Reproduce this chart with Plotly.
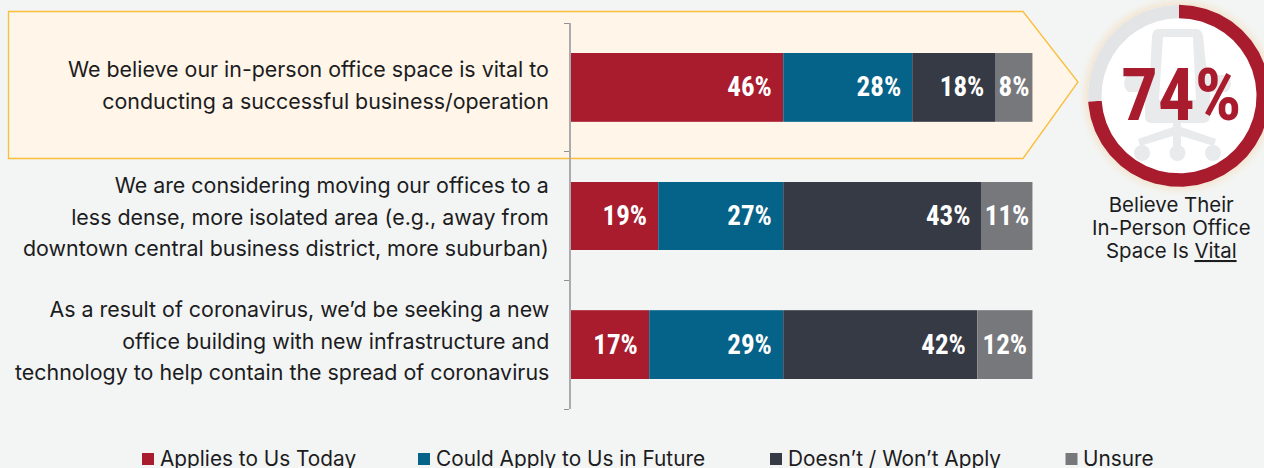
import numpy as np
import plotly.graph_objects as go

W, H = 1264, 468

statements = [
    "We believe our in-person office space is vital to<br>conducting a successful business/operation",
    "We are considering moving our offices to a<br>less dense, more isolated area (e.g., away from<br>downtown central business district, more suburban)",
    "As a result of coronavirus, we’d be seeking a new<br>office building with new infrastructure and<br>technology to help contain the spread of coronavirus",
]
series_names = ["Applies to Us Today", "Could Apply to Us in Future", "Doesn’t / Won’t Apply", "Unsure"]
applies_today = [46, 19, 17]
could_apply = [28, 27, 29]
doesnt_apply = [18, 43, 42]
unsure = [8, 11, 12]
series_values = [applies_today, could_apply, doesnt_apply, unsure]
series_colors = ["#A81C2E", "#056288", "#363A44", "#77787C"]
series_label_anchor = ["end", "end", "end", "middle"]
donut_values = [74, 26]
donut_colors = ["#A81C2E", "#E2E4E5"]
donut_label = "74%"
caption_lines = ["Believe Their", "In-Person Office", "Space Is <u>Vital</u>"]

BG = "#F3F5F4"
TEXT = "#1C1C1E"
SANS = "Inter"
NARROW = "Roboto Condensed"

def px(x):
    return x / W

def py(y):
    return 1 - y / H

def path(d):
    out = []
    for seg in d:
        cmd, *c = seg
        pts = []
        for i in range(0, len(c), 2):
            pts.append(f"{px(c[i]):.5f},{py(c[i + 1]):.5f}")
        out.append(cmd + " ".join(pts))
    return " ".join(out)

def circle(cx, cy, r, **kw):
    return dict(type="circle", xref="paper", yref="paper", x0=px(cx - r), x1=px(cx + r),
                y0=py(cy + r), y1=py(cy - r), layer="below", **kw)

def sized_lines(lines, size):
    # the outer font sets the line pitch, the inner span the glyph size
    return "<br>".join(f'<span style="font-size:{size}px">{ln}</span>' for ln in lines)

shapes = []

# callout banner behind the first row
shapes.append(dict(type="path", xref="paper", yref="paper", layer="below",
                   path=path([("M", 8.5, 11.5), ("L", 1023, 11.5), ("L", 1078, 82), ("L", 1023, 158.5),
                              ("L", 8.5, 158.5), ("Z",)]),
                   fillcolor="#FFF5E9", line=dict(color="#FBBD3A", width=1.3)))

# donut glow and white face
CX, CY, R_OUT, R_IN = 1179, 95.8, 91, 77.5
for grow, alpha in [(9, 0.025), (7, 0.03), (5, 0.04), (3, 0.05), (1.5, 0.06)]:
    shapes.append(circle(CX, CY, R_OUT + grow, fillcolor=f"rgba(251,189,90,{alpha})", line=dict(width=0)))
shapes.append(circle(CX, CY, R_OUT, fillcolor="#FFFFFF", line=dict(width=0)))

# chair icon
CHAIR = "#E8EAEB"
shapes.append(dict(type="path", xref="paper", yref="paper", layer="below", fillcolor=CHAIR, line=dict(width=0),
                   path=path([("M", 1158, 29), ("L", 1196, 29), ("Q", 1202, 29, 1203, 36), ("L", 1207, 75),
                              ("L", 1227, 75), ("Q", 1235, 83, 1227, 92), ("L", 1210, 92), ("L", 1210, 116),
                              ("Q", 1210, 123, 1203, 123), ("L", 1151, 123), ("Q", 1145, 123, 1145, 116),
                              ("L", 1145, 92), ("L", 1128, 92), ("Q", 1120, 83, 1128, 75), ("L", 1150, 75),
                              ("L", 1152, 36), ("Q", 1153, 29, 1158, 29), ("Z",),
                              ("M", 1163, 37), ("L", 1193, 37), ("L", 1196, 100), ("L", 1159, 100), ("Z",)])))
shapes.append(dict(type="path", xref="paper", yref="paper", layer="below", fillcolor=CHAIR, line=dict(width=0),
                   path=path([("M", 1173, 123), ("L", 1181, 123), ("L", 1181, 127), ("L", 1216, 139),
                              ("L", 1214, 146), ("L", 1181, 136), ("L", 1181, 150), ("L", 1173, 150),
                              ("L", 1173, 136), ("L", 1140, 146), ("L", 1138, 139), ("L", 1173, 127), ("Z",)])))
for cx in (1142, 1177.5, 1213):
    shapes.append(circle(cx, 153, 8, fillcolor=CHAIR, line=dict(width=0)))

# legend swatches
legend_x = [142, 418, 770, 1065.5]
for lx, col in zip(legend_x, series_colors):
    shapes.append(dict(type="rect", xref="paper", yref="paper", layer="above",
                       x0=px(lx), x1=px(lx + 12), y0=py(465), y1=py(453), fillcolor=col, line=dict(width=0)))

fig = go.Figure()

for name, vals, col, anchor in zip(series_names, series_values, series_colors, series_label_anchor):
    labels = [f"{v}%" + ("\u2004" if anchor == "end" else "") for v in vals]
    fig.add_trace(go.Bar(
        y=statements, x=vals, name=name, orientation="h", width=0.535,
        marker=dict(color=col, line=dict(color="rgba(255,255,255,0.35)", width=0.5)),
        text=labels, textposition="inside", insidetextanchor=anchor, textangle=0,
        constraintext="none", cliponaxis=False,
        textfont=dict(family=NARROW, size=27, color="#FFFFFF", weight="bold"),
        hoverinfo="skip", showlegend=False,
    ))

# donut ring: runs off the right edge of the page as in the source, so it is a
# filled ring on a full-page overlay axis pair, angles taken from donut_values
start = 0.0
total = sum(donut_values)
for val, col in zip(donut_values, donut_colors):
    t = np.radians(np.linspace(start, start + val / total * 360, 240))
    xs = np.r_[CX + R_OUT * np.sin(t), CX + R_IN * np.sin(t[::-1])]
    ys = np.r_[CY - R_OUT * np.cos(t), CY - R_IN * np.cos(t[::-1])]
    fig.add_trace(go.Scatter(x=xs, y=ys, xaxis="x2", yaxis="y2", mode="lines", fill="toself",
                             fillcolor=col, line=dict(width=0), hoverinfo="skip", showlegend=False))
    start += val / total * 360

annotations = [
    dict(text=donut_label, x=px(1181), y=py(95), xref="paper", yref="paper", showarrow=False,
         xanchor="center", yanchor="middle",
         font=dict(family=NARROW, size=73, color="#A81C2E", weight="bold")),
    dict(text=sized_lines(caption_lines, 20.4), x=px(1171.5), y=py(227), xref="paper", yref="paper",
         showarrow=False, xanchor="center", yanchor="middle", align="center",
         font=dict(family=SANS, size=17.7, color=TEXT)),
]
for lx, name in zip(legend_x, series_names):
    annotations.append(dict(text=name, x=px(lx + 18), y=py(458), xref="paper", yref="paper", showarrow=False,
                            xanchor="left", yanchor="middle", xshift=-2.5,
                            font=dict(family=SANS, size=20.8, color=TEXT)))

# statement labels, right aligned against the axis
LABEL_SIZE = 21.4
label_yshift = [2, 0, 4]
for s, dy in zip(statements, label_yshift):
    annotations.append(dict(text=sized_lines(s.split("<br>"), LABEL_SIZE), x=0, y=s, xref="x", yref="y",
                            showarrow=False, xanchor="right", yanchor="middle", align="right",
                            xshift=-19.5, yshift=dy, font=dict(family=SANS, size=24.3, color=TEXT)))

fig.update_layout(
    width=W, height=H, autosize=False,
    barmode="stack", bargap=0.465,
    margin=dict(l=0, r=0, t=0, b=0),
    paper_bgcolor=BG, plot_bgcolor="rgba(0,0,0,0)",
    font=dict(family=SANS, color=TEXT),
    shapes=shapes, annotations=annotations,
    xaxis=dict(domain=[px(570.5), px(1032.5)], range=[0, 100], visible=False, fixedrange=True),
    yaxis=dict(domain=[py(409), py(23)], type="category", categoryorder="array", categoryarray=statements,
               autorange="reversed", tickmode="array", tickvals=statements, showticklabels=False,
               tickson="boundaries", ticks="outside", ticklen=5, tickwidth=1, tickcolor="#8F9194",
               showline=True, linecolor="#A9ABAD", linewidth=1.5, showgrid=False, zeroline=False,
               fixedrange=True),
    xaxis2=dict(domain=[0, 1], range=[0, W], visible=False, fixedrange=True, anchor="y2"),
    yaxis2=dict(domain=[0, 1], range=[H, 0], visible=False, fixedrange=True, anchor="x2"),
)

fig.write_html("out.html", config=dict(displayModeBar=False),
               post_script="document.body.style.margin='0';")
